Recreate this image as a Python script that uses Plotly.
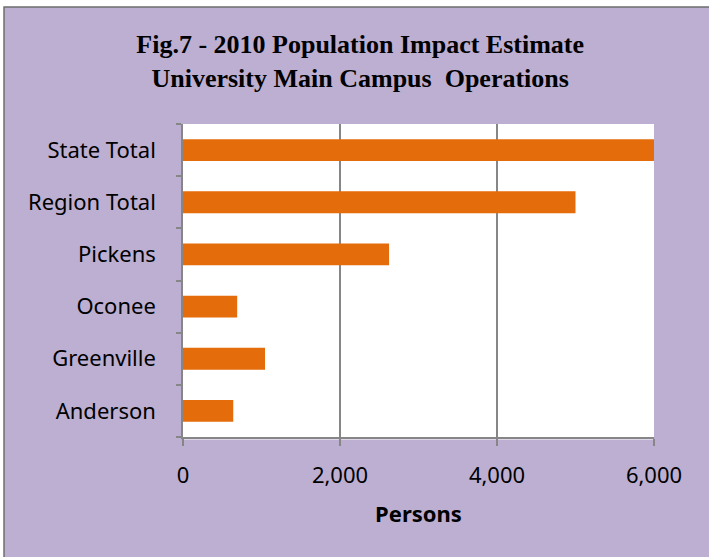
import plotly.graph_objects as go

# Population impact by area (persons), listed bottom to top
areas = ["Anderson", "Greenville", "Oconee", "Pickens", "Region Total", "State Total"]
persons = [640, 1045, 690, 2625, 5000, 6000]

x_ticks = [0, 2000, 4000, 6000]
x_tick_text = ["0", "2,000", "4,000", "6,000"]

LAVENDER = "#BCAFD2"
ORANGE = "#E46C0A"
GRID = "#868686"
LABEL_FONT = "Noto Sans"

fig = go.Figure(
    go.Bar(
        x=persons,
        y=areas,
        orientation="h",
        marker=dict(color=ORANGE, line=dict(width=0)),
        hoverinfo="x+y",
    )
)

fig.update_layout(
    width=709,
    height=557,
    margin=dict(l=183, r=55, t=124, b=120),
    paper_bgcolor="white",
    plot_bgcolor="white",
    bargap=0.58,
    showlegend=False,
    title=dict(
        text="Fig.7 - 2010 Population Impact Estimate<br>University Main Campus  Operations",
        font=dict(family="Liberation Serif", size=26, color="black", weight="bold"),
        x=0.508,
        xanchor="center",
        y=0.905,
        yanchor="middle",
    ),
    shapes=[
        # lavender chart area with a thin grey frame
        dict(type="rect", xref="paper", yref="paper", layer="below",
             x0=-0.380, x1=1.13, y0=-0.40, y1=1.374,
             fillcolor=LAVENDER, line=dict(color="#6E6E6E", width=1.5)),
        # white plotting area
        dict(type="rect", xref="paper", yref="paper", layer="below",
             x0=0, x1=1, y0=-0.008, y1=1,
             fillcolor="white", line=dict(width=0)),
    ],
)

fig.update_xaxes(
    range=[0, 6000],
    tickvals=x_ticks,
    ticktext=x_tick_text,
    showgrid=True,
    gridcolor=GRID,
    gridwidth=1.5,
    zeroline=False,
    showline=True,
    linecolor=GRID,
    linewidth=1.5,
    ticks="outside",
    ticklen=7,
    tickcolor=GRID,
    tickwidth=1.5,
    ticklabelstandoff=11,
    tickfont=dict(family=LABEL_FONT, size=22, color="black"),
    title=dict(text="Persons", standoff=18,
               font=dict(family=LABEL_FONT, size=22, color="black", weight="bold")),
    fixedrange=True,
)

fig.update_yaxes(
    categoryorder="array",
    categoryarray=areas,
    showgrid=False,
    zeroline=False,
    showline=True,
    linecolor=GRID,
    linewidth=1.5,
    ticks="outside",
    tickson="boundaries",
    ticklen=5,
    tickcolor=GRID,
    tickwidth=1.5,
    ticklabelstandoff=21,
    tickfont=dict(family=LABEL_FONT, size=22, color="black"),
    fixedrange=True,
)

fig.write_html("out.html")
